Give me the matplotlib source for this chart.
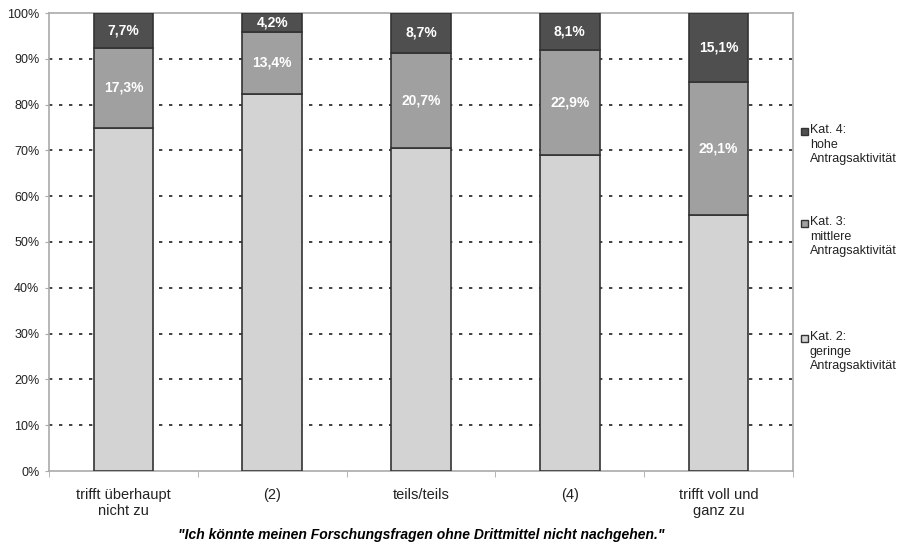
import matplotlib.pyplot as plt
import numpy as np
from matplotlib.patches import Rectangle

plt.rcParams['font.family'] = ['Liberation Sans', 'DejaVu Sans']

categories = ["trifft überhaupt\nnicht zu", "(2)", "teils/teils", "(4)", "trifft voll und\nganz zu"]
kat4 = [7.7, 4.2, 8.7, 8.1, 15.1]
kat3 = [17.3, 13.4, 20.7, 22.9, 29.1]
kat2 = [75.0, 82.4, 70.6, 69.0, 55.8]

labels = ["Kat. 2:\ngeringe\nAntragsaktivität",
          "Kat. 3:\nmittlere\nAntragsaktivität",
          "Kat. 4:\nhohe\nAntragsaktivität"]
colors = ["#d3d3d3", "#a0a0a0", "#4f4f4f"]

fig = plt.figure(figsize=(9.02, 5.49), dpi=100)
ax = fig.add_axes([49 / 902, 1 - 471 / 549, (793 - 49) / 902, (471 - 13) / 549])

x = np.arange(len(categories))
w = 0.4
bottom = np.zeros(len(categories))
for vals, c in zip([kat2, kat3, kat4], colors):
    ax.bar(x, vals, w, bottom=bottom, color=c, edgecolor="#333333", linewidth=1.2, zorder=3)
    bottom += np.array(vals)

# value labels for Kat. 3 and Kat. 4
for i in range(len(categories)):
    y3 = kat2[i] + kat3[i] / 2
    y4 = kat2[i] + kat3[i] + kat4[i] / 2
    ax.text(x[i], y3, f"{kat3[i]:.1f}%".replace(".", ","), ha="center", va="center",
            color="white", fontsize=10, fontweight="bold", zorder=4)
    ax.text(x[i], y4, f"{kat4[i]:.1f}%".replace(".", ","), ha="center", va="center",
            color="white", fontsize=10, fontweight="bold", zorder=4)

ax.set_xlim(-0.5, len(categories) - 0.5)
ax.set_ylim(0, 100)
ax.set_yticks(np.arange(0, 101, 10))
ax.set_yticklabels([f"{v}%" for v in range(0, 101, 10)], fontsize=9, color="#222222")
for v in range(10, 100, 10):
    ax.axhline(v, color="#222222", linestyle=(0, (2, 4)), linewidth=1.2, zorder=1)

ax.set_xticks(x)
ax.set_xticklabels(categories, fontsize=10.5, color="#222222", linespacing=1.2)
ax.tick_params(axis="x", length=0, pad=12)
ax.set_xticks(np.arange(-0.5, len(categories), 1), minor=True)
ax.tick_params(axis="x", which="minor", length=4, color="#aaaaaa", direction="out")
ax.tick_params(axis="y", length=3, color="#aaaaaa", pad=4)

for s in ax.spines.values():
    s.set_color("#aaaaaa")
    s.set_linewidth(1.2)

fig.text(0.5 * (49 + 793) / 902, 1 - 535 / 549,
         "\"Ich könnte meinen Forschungsfragen ohne Drittmittel nicht nachgehen.\"",
         ha="center", va="center", fontsize=10, fontweight="bold", fontstyle="italic")

# legend, placed like the original
leg_y = [331, 216, 124]
for lab, c, yy in zip(labels, colors, leg_y):
    fig.patches.append(Rectangle((801 / 902, 1 - (yy + 11) / 549), 7 / 902, 7 / 549,
                                 facecolor=c, edgecolor="#333333", linewidth=1,
                                 transform=fig.transFigure, figure=fig))
    fig.text(810 / 902, 1 - yy / 549, lab, ha="left", va="top", fontsize=9,
             color="#222222", linespacing=1.3)

fig.savefig("out.png", dpi=100)
